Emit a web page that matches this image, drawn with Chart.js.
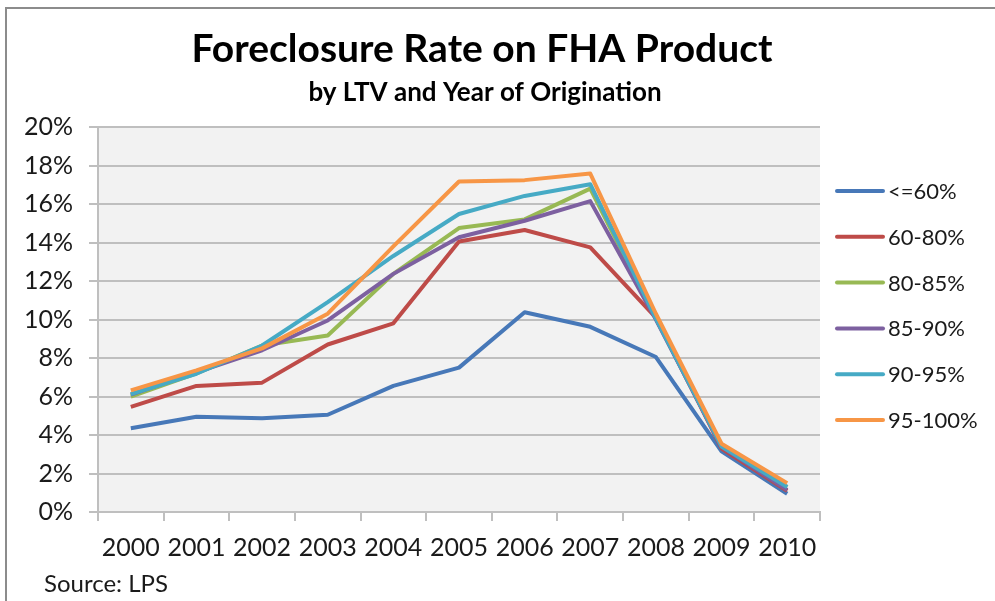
<!DOCTYPE html>
<html>
<head>
<meta charset="utf-8">
<script src="https://cdn.jsdelivr.net/npm/chart.js@4/dist/chart.umd.min.js"></script>
<style>
    html, body { margin: 0; padding: 0; background: #ffffff; }
    #wrap { width: 995px; height: 601px; position: relative; }
</style>
</head>
<body>
<div id="wrap"><canvas id="fhaChart" width="995" height="601"></canvas></div>
<script>
// Foreclosure rate (%) by LTV bucket and year of origination
const years = ["2000", "2001", "2002", "2003", "2004", "2005", "2006", "2007", "2008", "2009", "2010"];
const seriesNames = ["<=60%", "60-80%", "80-85%", "85-90%", "90-95%", "95-100%"];
const ltv60 = [4.35, 4.95, 4.87, 5.05, 6.55, 7.5, 10.38, 9.62, 8.05, 3.15, 0.95];
const ltv60to80 = [5.46, 6.55, 6.72, 8.7, 9.8, 14.05, 14.65, 13.75, 10.1, 3.3, 1.1];
const ltv80to85 = [6.0, 7.2, 8.65, 9.17, 12.37, 14.75, 15.2, 16.8, 10.05, 3.5, 1.3];
const ltv85to90 = [6.1, 7.25, 8.4, 9.95, 12.37, 14.27, 15.13, 16.15, 10.0, 3.4, 1.15];
const ltv90to95 = [6.12, 7.18, 8.65, 10.9, 13.3, 15.48, 16.42, 17.03, 10.05, 3.4, 1.3];
const ltv95to100 = [6.32, 7.36, 8.5, 10.3, 13.8, 17.17, 17.24, 17.58, 10.3, 3.55, 1.5];
const yTicks = [0, 2, 4, 6, 8, 10, 12, 14, 16, 18, 20];

const seriesValues = [ltv60, ltv60to80, ltv80to85, ltv85to90, ltv90to95, ltv95to100];
const colors = ["#4778b8", "#be4b48", "#98b954", "#7d60a0", "#46aac5", "#f79646"];
const FONT = "Lato";
const textColor = "#1a1a1a";

// plot background, outer border, titles, legend and source note
const decorations = {
    id: "decorations",
    beforeDraw(chart) {
        const { ctx, chartArea } = chart;
        ctx.save();
        ctx.fillStyle = "#f2f2f2";
        ctx.fillRect(chartArea.left, chartArea.top, chartArea.right - chartArea.left, chartArea.bottom - chartArea.top);
        ctx.restore();
    },
    afterDraw(chart) {
        const ctx = chart.ctx;
        ctx.save();
        // frame (top and left edges visible in the original)
        ctx.strokeStyle = "#8c8c8c";
        ctx.lineWidth = 2;
        ctx.beginPath();
        ctx.moveTo(995, 8);
        ctx.lineTo(6, 8);
        ctx.lineTo(6, 601);
        ctx.stroke();

        ctx.fillStyle = "#000000";
        ctx.textAlign = "center";
        ctx.textBaseline = "middle";
        ctx.font = "bold 39px " + FONT;
        ctx.fillText("Foreclosure Rate on FHA Product", 482, 49);
        ctx.font = "bold 26px " + FONT;
        ctx.fillText("by LTV and Year of Origination", 485, 93);

        // legend
        ctx.textAlign = "left";
        ctx.font = "22px " + FONT;
        chart.data.datasets.forEach((ds, i) => {
            const y = 191 + i * 45.8;
            ctx.strokeStyle = ds.borderColor;
            ctx.lineWidth = 4;
            ctx.lineCap = "round";
            ctx.beginPath();
            ctx.moveTo(837, y);
            ctx.lineTo(883, y);
            ctx.stroke();
            ctx.fillStyle = textColor;
            ctx.fillText(ds.label, 888, y + 1);
        });

        ctx.font = "24px " + FONT;
        ctx.fillText("Source: LPS", 44, 584);
        ctx.restore();
    }
};

const datasets = seriesNames.map((name, i) => ({
    label: name,
    data: seriesValues[i],
    borderColor: colors[i],
    backgroundColor: colors[i],
    borderWidth: 4,
    borderJoinStyle: "round",
    pointRadius: 0,
    tension: 0,
    order: seriesNames.length - i
}));

new Chart(document.getElementById("fhaChart"), {
    type: "line",
    data: { labels: years, datasets: datasets },
    options: {
        responsive: false,
        animation: false,
        layout: { padding: { left: 6, right: 175, top: 127, bottom: 0 } },
        plugins: {
            legend: { display: false },
            title: { display: false },
            tooltip: { enabled: false }
        },
        scales: {
            x: {
                offset: true,
                grid: {
                    offset: true,
                    drawOnChartArea: false,
                    color: "#bfbfbf",
                    lineWidth: 2,
                    tickLength: 9
                },
                border: { color: "#bfbfbf", width: 2 },
                ticks: {
                    color: textColor,
                    font: { family: FONT, size: 25 },
                    padding: 12,
                    maxRotation: 0,
                    autoSkip: false
                },
                afterFit(scale) { scale.height = 89; }
            },
            y: {
                min: 0,
                max: 20,
                afterBuildTicks(scale) { scale.ticks = yTicks.map(v => ({ value: v })); },
                grid: {
                    color: "#bfbfbf",
                    lineWidth: 2,
                    tickLength: 9
                },
                border: { color: "#bfbfbf", width: 2 },
                ticks: {
                    color: textColor,
                    font: { family: FONT, size: 25 },
                    padding: 16,
                    callback: v => v + "%"
                },
                afterFit(scale) { scale.width = 92; }
            }
        }
    },
    plugins: [decorations]
});
</script>
</body>
</html>
